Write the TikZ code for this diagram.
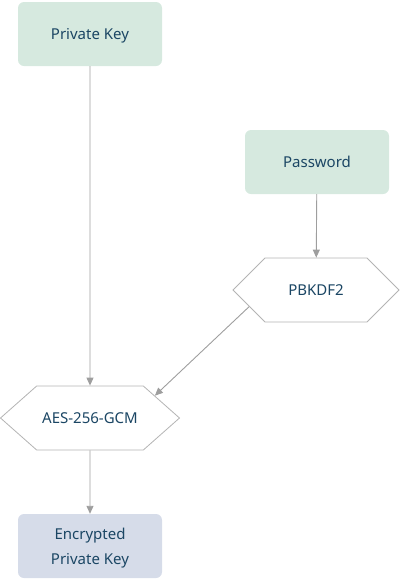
\documentclass[tikz,border=0pt]{standalone}
\usepackage{fontspec}
\setmainfont{Noto Sans}
\usetikzlibrary{arrows.meta,shapes.symbols}

\definecolor{keygreen}{HTML}{D6E9DF}
\definecolor{keyblue}{HTML}{D6DCE9}
\definecolor{inkblue}{HTML}{1B4664}
\definecolor{linegray}{HTML}{9E9E9E}
\definecolor{hexgray}{HTML}{B4B4B4}

\tikzset{
  keybox/.style={rectangle, rounded corners=6pt, draw=none, text=inkblue,
    minimum width=144pt, minimum height=64pt, align=center, text depth=0pt,
    font=\fontsize{15}{25}\selectfont},
  hexbox/.style={signal, signal to=west and east, signal pointer angle=#1,
    draw=hexgray, fill=white, text=inkblue, line width=0.8pt, text depth=0pt,
    minimum height=64pt, inner sep=0pt, font=\fontsize{15}{16}\selectfont},
  conn/.style={draw=linegray, line width=0.9pt,
    -{Triangle[length=8pt,width=7pt]}}
}

\begin{document}
\begin{tikzpicture}[x=1pt,y=-1pt]
\useasboundingbox (0,0) rectangle (400,582);
% key boxes
\node[keybox, fill=keygreen] (privkey) at (90,34) {Private Key};
\node[keybox, fill=keygreen] (passwd) at (317,162) {Password};
\node[keybox, fill=keyblue] (encrypted) at (90,546) {Encrypted\\Private Key};
% hexagons
\node[hexbox=90, minimum width=166pt] (pbkdf) at (316,290) {PBKDF2};
\node[hexbox=83, minimum width=179pt] (aes) at (90,418) {AES-256-GCM};
% connectors
\draw[conn] (privkey) -- (aes);
\draw[conn] (passwd) -- (pbkdf);
\draw[conn] (pbkdf.194) -- (aes.19);
\draw[conn] (aes) -- (encrypted);
\end{tikzpicture}
\end{document}
